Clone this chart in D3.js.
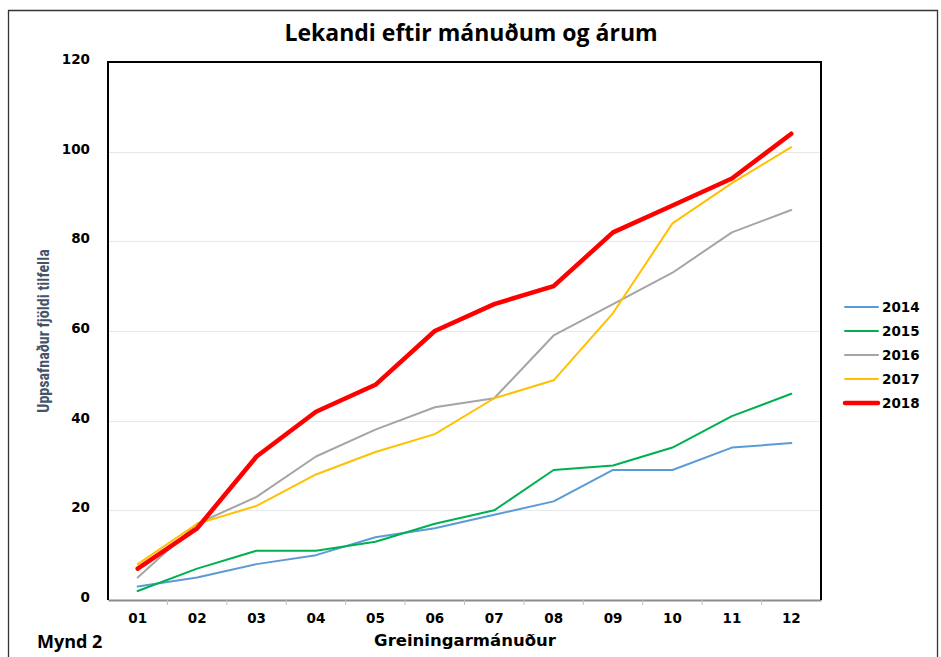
<!DOCTYPE html>
<html>
<head>
<meta charset="utf-8">
<script src="https://cdn.jsdelivr.net/npm/d3@7"></script>
<style>
  body { margin: 0; background: #fff; }
  svg { display: block; }
</style>
</head>
<body>
<div id="chart"></div>
<script>
// data
var months = ["01", "02", "03", "04", "05", "06", "07", "08", "09", "10", "11", "12"];
var years = ["2014", "2015", "2016", "2017", "2018"];
var v2014 = [3, 5, 8, 10, 14, 16, 19, 22, 29, 29, 34, 35];
var v2015 = [2, 7, 11, 11, 13, 17, 20, 29, 30, 34, 41, 46];
var v2016 = [5, 17, 23, 32, 38, 43, 45, 59, 66, 73, 82, 87];
var v2017 = [8, 17, 21, 28, 33, 37, 45, 49, 64, 84, 93, 101];
var v2018 = [7, 16, 32, 42, 48, 60, 66, 70, 82, 88, 94, 104];
var yTicks = [0, 20, 40, 60, 80, 100, 120];

var colors = ["#5B9BD5", "#00B050", "#A5A5A5", "#FFC000", "#FF0000"];
var widths = [2, 2, 2, 2, 4.5];
var seriesVals = [v2014, v2015, v2016, v2017, v2018];

var W = 941, H = 657;
var margin = { top: 62, right: 120, bottom: 57, left: 108 };
var pw = 821 - margin.left, ph = 600 - margin.top;

var svg = d3.select("#chart").append("svg")
    .attr("width", W)
    .attr("height", H);

// outer frame
svg.append("path")
    .attr("d", "M8.5,657 V10.5 H937.5 V657")
    .attr("fill", "none")
    .attr("stroke", "#333")
    .attr("stroke-width", 1.3);

svg.append("text")
    .attr("x", 471).attr("y", 41)
    .attr("text-anchor", "middle")
    .style("font-family", "'Open Sans', sans-serif")
    .style("font-weight", "bold")
    .style("font-size", "23px")
    .text("Lekandi eftir mánuðum og árum");

var g = svg.append("g")
    .attr("transform", "translate(" + margin.left + "," + margin.top + ")");

var x = d3.scaleBand().domain(months).range([0, pw]);
var y = d3.scaleLinear().domain([0, 120]).range([ph, 0]);

// gridlines
g.selectAll("line.grid")
    .data(yTicks.filter(function (d) { return d > 0 && d < 120; }))
    .enter().append("line")
    .attr("class", "grid")
    .attr("x1", 0).attr("x2", pw)
    .attr("y1", function (d) { return Math.round(y(d)) + 0.5; })
    .attr("y2", function (d) { return Math.round(y(d)) + 0.5; })
    .attr("stroke", "#E6E8EC")
    .attr("stroke-width", 1);

// y axis labels
var yAxis = d3.axisLeft(y).tickValues(yTicks).tickSize(0).tickPadding(18);
var yg = g.append("g").call(yAxis);
yg.select(".domain").remove();
yg.selectAll("text")
    .style("font-family", "'DejaVu Sans', Verdana, sans-serif")
    .style("font-weight", "bold")
    .style("font-size", "13.5px")
    .attr("dy", "0.1em")
    .attr("fill", "#000");

// x axis
var xAxis = d3.axisBottom(x).tickSize(0).tickPadding(13);
var xg = g.append("g")
    .attr("transform", "translate(0," + ph + ")")
    .call(xAxis);
xg.select(".domain")
    .attr("stroke", "#8C8C8C")
    .attr("stroke-width", 2);
xg.selectAll("text")
    .style("font-family", "'DejaVu Sans', Verdana, sans-serif")
    .style("font-weight", "bold")
    .style("font-size", "13.5px")
    .attr("fill", "#000");
// tick marks between categories
g.selectAll("line.xtick")
    .data(months.slice(1))
    .enter().append("line")
    .attr("class", "xtick")
    .attr("x1", function (d) { return x(d); })
    .attr("x2", function (d) { return x(d); })
    .attr("y1", ph).attr("y2", ph + 5)
    .attr("stroke", "#BFBFBF")
    .attr("stroke-width", 1);

// plot frame: left, top, right
g.append("path")
    .attr("d", "M0," + ph + " V0 H" + pw + " V" + ph)
    .attr("fill", "none")
    .attr("stroke", "#000")
    .attr("stroke-width", 2);

// lines
var line = d3.line()
    .x(function (d, i) { return x(months[i]) + x.bandwidth() / 2; })
    .y(function (d) { return y(d); });

g.selectAll("path.series")
    .data(seriesVals)
    .enter().append("path")
    .attr("class", "series")
    .attr("d", line)
    .attr("fill", "none")
    .attr("stroke", function (d, i) { return colors[i]; })
    .attr("stroke-width", function (d, i) { return widths[i]; })
    .attr("stroke-linejoin", "round")
    .attr("stroke-linecap", "round");

// axis titles
svg.append("text")
    .attr("transform", "translate(49,331) rotate(-90)")
    .attr("text-anchor", "middle")
    .style("font-family", "'Liberation Sans Narrow', 'Roboto Condensed', 'Open Sans', sans-serif")
    .style("font-weight", "bold")
    .style("font-size", "16px")
    .attr("fill", "#44546A")
    .text("Uppsafnaður fjöldi tilfella");

svg.append("text")
    .attr("x", 465).attr("y", 646)
    .attr("text-anchor", "middle")
    .style("font-family", "'DejaVu Sans', Verdana, sans-serif")
    .style("font-weight", "bold")
    .style("font-size", "16.5px")
    .text("Greiningarmánuður");

svg.append("text")
    .attr("x", 37).attr("y", 648)
    .style("font-family", "'Open Sans', sans-serif")
    .style("font-weight", "bold")
    .style("font-size", "18px")
    .text("Mynd 2");

// legend
var leg = svg.append("g").attr("transform", "translate(845,307)");
var items = leg.selectAll("g")
    .data(years)
    .enter().append("g")
    .attr("transform", function (d, i) { return "translate(0," + i * 24 + ")"; });
items.append("line")
    .attr("x1", 0).attr("x2", 33)
    .attr("stroke", function (d, i) { return colors[i]; })
    .attr("stroke-width", function (d, i) { return widths[i]; })
    .attr("stroke-linecap", "round");
items.append("text")
    .attr("x", 37).attr("dy", "0.35em")
    .style("font-family", "'DejaVu Sans', Verdana, sans-serif")
    .style("font-weight", "bold")
    .style("font-size", "13.5px")
    .text(function (d) { return d; });
</script>
</body>
</html>
